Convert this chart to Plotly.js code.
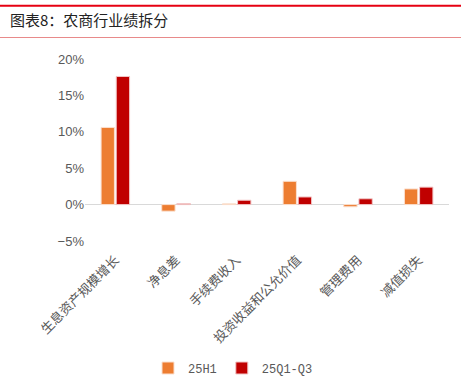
<!DOCTYPE html>
<html>
<head>
<meta charset="utf-8">
<script src="https://cdn.plot.ly/plotly-3.0.1.min.js"></script>
<style>html,body{margin:0;padding:0;background:#fff;}#chart{width:461px;height:388px;}</style>
</head>
<body>
<div id="chart"></div>
<script>
var categories = ["生息资产规模增长", "净息差", "手续费收入", "投资收益和公允价值", "管理费用", "减值损失"];
var series25H1 = [10.6, -0.9, 0.1, 3.2, -0.3, 2.15];
var series25Q1Q3 = [17.6, 0.15, 0.6, 1.05, 0.8, 2.4];
var seriesNames = ["25H1", "25Q1-Q3"];
var yTicks = [-5, 0, 5, 10, 15, 20];
var yTickLabels = ["−5%", "0%", "5%", "10%", "15%", "20%"];

var L = 85, R = 449, W = 461;
function px2paper(x){ return (x - L) / (R - L); }

var traces = [
  {type: "bar", name: seriesNames[0], x: categories, y: series25H1,
   marker: {color: "#ED7D31", line: {color: "#FBE0CF", width: 1}}},
  {type: "bar", name: seriesNames[1], x: categories, y: series25Q1Q3,
   marker: {color: "#C00000", line: {color: "#F2C6C6", width: 1}}}
];

var layout = {
  width: 461, height: 388,
  margin: {l: 85, r: 12, t: 59, b: 147, autoexpand: false},
  paper_bgcolor: "#fff", plot_bgcolor: "#fff",
  font: {family: "Liberation Sans, Noto Sans CJK SC, sans-serif", color: "#595959", size: 12},
  title: {text: "图表8：农商行业绩拆分", x: 10/461, xref: "container", xanchor: "left",
          y: 1 - 21/388, yref: "container", yanchor: "middle",
          font: {family: "Noto Sans CJK SC, sans-serif", size: 15, color: "#222"}},
  barmode: "group", bargap: 0.5, bargroupgap: 0.12,
  showlegend: true,
  legend: {orientation: "h", x: px2paper(233), xanchor: "center", y: (241 - 368) / 182, yanchor: "middle",
           font: {family: "Liberation Mono, Noto Sans CJK SC, monospace", size: 12, color: "#595959"},
           itemwidth: 30, traceorder: "normal"},
  xaxis: {tickangle: -45, showgrid: false, showline: false, ticks: "", ticklabelstandoff: 8,
          automargin: false,
          tickfont: {family: "Noto Sans CJK SC, sans-serif", size: 13, color: "#595959"}},
  yaxis: {range: [-5, 20], tickmode: "array", tickvals: yTicks, ticktext: yTickLabels, showgrid: false,
          zeroline: true, zerolinecolor: "#d9d9d9", zerolinewidth: 1, showline: false, ticks: "",
          automargin: false,
          tickfont: {size: 13, color: "#595959"}},
  shapes: [
    {type: "line", xref: "paper", yref: "paper", x0: px2paper(0), x1: px2paper(W),
     y0: (241 - 5.7) / 182, y1: (241 - 5.7) / 182, line: {color: "#E60012", width: 2}},
    {type: "line", xref: "paper", yref: "paper", x0: px2paper(0), x1: px2paper(W),
     y0: (241 - 37.5) / 182, y1: (241 - 37.5) / 182, line: {color: "#E88A8A", width: 1}}
  ]
};

Plotly.newPlot("chart", traces, layout, {displayModeBar: false, staticPlot: true});
</script>
</body>
</html>
